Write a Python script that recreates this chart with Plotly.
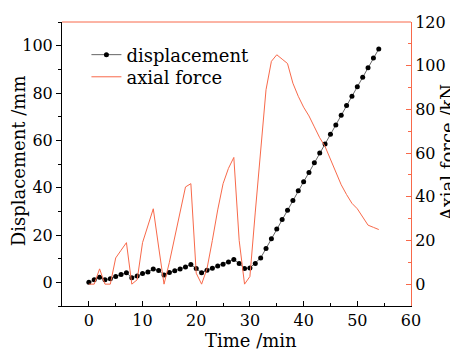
import plotly.graph_objects as go

time_disp = list(range(0, 55))
displacement = [0, 1.1, 2.1, 1.1, 1.5, 2.5, 3.3, 4.1, 1.9, 2.7,
                3.7, 4.4, 5.6, 5.0, 3.1, 4.2, 4.9, 5.6, 6.5, 7.5,
                5.8, 4.1, 5.1, 6.0, 6.9, 7.6, 8.6, 9.7, 8.0, 5.8,
                6.1, 8.0, 10.3, 14.3, 18.4, 22.5, 26.5, 30.5, 34.6, 38.7,
                42.5, 46.4, 50.5, 54.6, 58.5, 62.6, 66.5, 70.6, 74.7, 78.6,
                82.6, 86.7, 90.7, 94.8, 98.6]

time_force = list(range(0, 55))
axial_force = [0, 0, 7, 0, 0, 12, 15.5, 19, 0, 2,
               19, 27, 34.5, 17, 0, 10, 21, 33, 44.5, 46,
               5, 0, 7, 20, 34, 46, 53, 58, 20, 0,
               3.5, 33, 63, 89, 102, 105, 103, 101, 92, 86,
               81, 77, 72, 67, 63, 57, 51, 45.5, 41, 37,
               34.5, 31, 27, 26, 25]

x_ticks = [0, 10, 20, 30, 40, 50, 60]
left_ticks = [0, 20, 40, 60, 80, 100]
right_ticks = [0, 20, 40, 60, 80, 100, 120]

RED = "#F8694A"
FONT = "DejaVu Serif"

fig = go.Figure()
fig.add_trace(go.Scatter(
    x=time_disp, y=displacement, name="displacement", mode="lines+markers",
    line=dict(color="#666666", width=1),
    marker=dict(color="black", size=5), yaxis="y", legend="legend"))
fig.add_trace(go.Scatter(
    x=time_force, y=axial_force, name="axial force", mode="lines",
    line=dict(color=RED, width=1), yaxis="y2", legend="legend2"))

legend_common = dict(xanchor="left", yanchor="middle", bgcolor="rgba(0,0,0,0)",
                     font=dict(family=FONT, size=18, color="black"), borderwidth=0)

# page has an 8px body margin, so the figure is 8px smaller and shifted
fig.update_layout(
    width=450, height=343,
    margin=dict(l=54, r=47, t=14, b=45, autoexpand=False),
    paper_bgcolor="white", plot_bgcolor="white",
    font=dict(family=FONT, size=16, color="black"),
    showlegend=True,
    legend=dict(x=0.07, y=0.884, **legend_common),
    legend2=dict(x=0.07, y=0.806, **legend_common),
    xaxis=dict(range=[-5, 60], tickvals=x_ticks, ticks="inside", ticklen=5,
               tickcolor="black", showline=True, linecolor="black", linewidth=1,
               showgrid=False, zeroline=False, automargin=False,
               minor=dict(dtick=5, tick0=0, ticks="inside", ticklen=3, tickcolor="black"),
               tickfont=dict(family=FONT, size=16)),
    yaxis=dict(range=[-10, 110], tickvals=left_ticks, ticks="outside", ticklen=5,
               tickcolor="black", showline=True, linecolor="black", linewidth=1,
               showgrid=False, zeroline=False, automargin=False,
               minor=dict(dtick=10, tick0=0, ticks="outside", ticklen=3, tickcolor="black"),
               tickfont=dict(family=FONT, size=16)),
    yaxis2=dict(range=[-10, 120], tickvals=right_ticks, overlaying="y", side="right",
                ticks="inside", ticklen=5, tickcolor=RED, showline=True,
                linecolor=RED, linewidth=1, showgrid=False, zeroline=False,
                automargin=False,
                minor=dict(dtick=10, tick0=0, ticks="inside", ticklen=3, tickcolor=RED),
                tickfont=dict(family=FONT, size=16)),
    shapes=[dict(type="line", xref="paper", yref="paper", x0=0, x1=1, y0=1, y1=1,
                 line=dict(color=RED, width=1))],
    annotations=[
        dict(text="Time /min", xref="paper", yref="paper", x=0.542, y=-0.122,
             xanchor="center", yanchor="middle", showarrow=False,
             font=dict(family=FONT, size=18)),
        dict(text="Displacement /mm", xref="paper", yref="paper", x=-0.126, y=0.51,
             xanchor="center", yanchor="middle", showarrow=False, textangle=-90,
             font=dict(family=FONT, size=18)),
        dict(text="Axial force /kN", xref="paper", yref="paper", x=1.105, y=0.54,
             xanchor="center", yanchor="middle", showarrow=False, textangle=-90,
             font=dict(family=FONT, size=18)),
    ],
)

fig.write_html("out.html")
